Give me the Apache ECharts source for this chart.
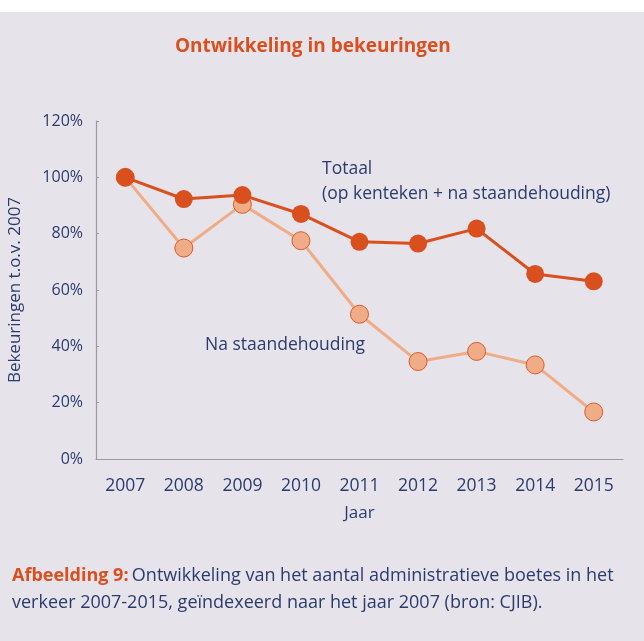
<!DOCTYPE html>
<html>
<head>
<meta charset="utf-8">
<script src="https://cdn.jsdelivr.net/npm/echarts@6/dist/echarts.min.js"></script>
<style>
html,body{margin:0;padding:0;background:#ffffff;}
#chart{width:644px;height:641px;}
</style>
</head>
<body>
<div id="chart"></div>
<script>
var years = ['2007','2008','2009','2010','2011','2012','2013','2014','2015'];
var totaal = [100, 92.3, 93.7, 87.0, 77.1, 76.5, 81.8, 65.7, 63.1];
var naStaandehouding = [100, 74.9, 90.4, 77.5, 51.4, 34.6, 38.2, 33.4, 16.7];
var yTicks = [0, 20, 40, 60, 80, 100, 120];

var navy = '#2c3b6e';
var orange = '#d9501e';
var light = '#efac86';
var font = '"Open Sans"';

var chart = echarts.init(document.getElementById('chart'), null, {renderer: 'canvas'});
chart.setOption({
  animation: false,
  backgroundColor: '#ffffff',
  graphic: [
    {type: 'rect', left: 0, top: 12, shape: {width: 644, height: 629}, style: {fill: '#e6e3eb'}, z: -10},
    {type: 'text', left: 175, top: 37, style: {text: 'Ontwikkeling in bekeuringen', fill: orange, font: 'bold 19px ' + font}},
    {type: 'text', left: 322, top: 160, style: {text: 'Totaal', fill: navy, font: '17.5px ' + font}},
    {type: 'text', left: 322, top: 185, style: {text: '(op kenteken + na staandehouding)', fill: navy, font: '17.5px ' + font}},
    {type: 'text', left: 205, top: 336, style: {text: 'Na staandehouding', fill: navy, font: '17.5px ' + font}},
    {type: 'text', left: 12, top: 567, style: {
      text: '{b|Afbeelding 9:} {n|Ontwikkeling van het aantal administratieve boetes in het}',
      rich: {
        b: {fill: orange, font: 'bold 18px ' + font},
        n: {fill: navy, font: '18px ' + font}
      }
    }},
    {type: 'text', left: 12, top: 594, style: {text: 'verkeer 2007-2015, geïndexeerd naar het jaar 2007 (bron: CJIB).', fill: navy, font: '18px ' + font}}
  ],
  grid: {left: 96, right: 21, top: 121, bottom: 182, containLabel: false, outerBoundsMode: 'none'},
  xAxis: {
    type: 'category',
    data: years,
    boundaryGap: true,
    name: 'Jaar',
    nameLocation: 'middle',
    nameGap: 46,
    nameTextStyle: {color: navy, fontSize: 17, fontFamily: font},
    axisLine: {lineStyle: {color: '#9a9aa2', width: 1.2}},
    axisTick: {inside: true, length: 3, lineStyle: {color: '#9a9aa2'}},
    axisLabel: {color: navy, fontSize: 17.5, fontFamily: font, margin: 18}
  },
  yAxis: {
    type: 'value',
    min: 0, max: 120, interval: 20,
    name: 'Bekeuringen t.o.v. 2007',
    nameLocation: 'middle',
    nameGap: 72,
    nameRotate: 90,
    nameTextStyle: {color: navy, fontSize: 17, fontFamily: font},
    axisLine: {show: true, lineStyle: {color: '#9a9aa2', width: 1.2}},
    axisTick: {show: true, inside: true, length: 3, lineStyle: {color: '#9a9aa2'}},
    splitLine: {show: false},
    axisLabel: {color: navy, fontSize: 16, fontFamily: font, margin: 13,
      formatter: function(v){ return yTicks.indexOf(v) >= 0 ? v + '%' : ''; }}
  },
  series: [
    {
      name: 'Na staandehouding', type: 'line', data: naStaandehouding,
      symbol: 'circle', symbolSize: 18,
      lineStyle: {color: light, width: 3},
      itemStyle: {color: light, borderColor: '#de5a28', borderWidth: 1},
      z: 2
    },
    {
      name: 'Totaal', type: 'line', data: totaal,
      symbol: 'circle', symbolSize: 18,
      lineStyle: {color: orange, width: 3},
      itemStyle: {color: orange},
      z: 3
    }
  ]
});
</script>
</body>
</html>
